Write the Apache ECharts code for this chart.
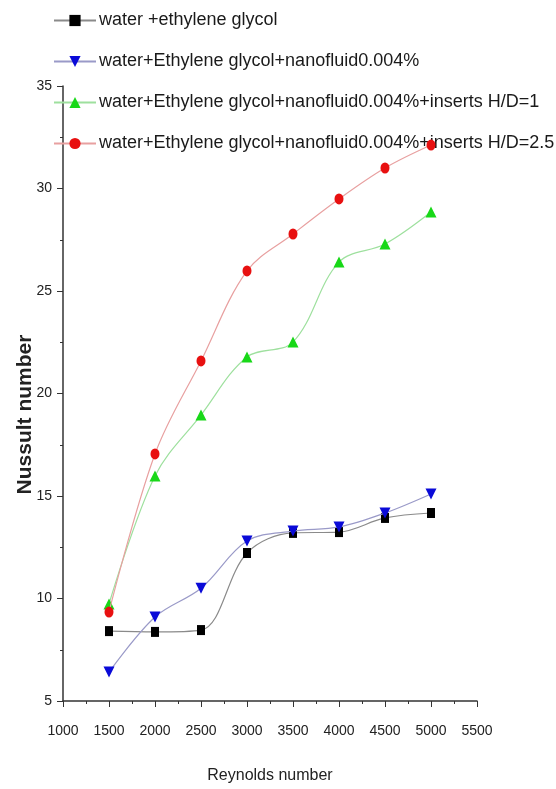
<!DOCTYPE html>
<html>
<head>
<meta charset="utf-8">
<script src="https://cdn.jsdelivr.net/npm/echarts@6/dist/echarts.min.js"></script>
<style>
html,body{margin:0;padding:0;background:#fff;}
#c{width:556px;height:789px;}
</style>
</head>
<body>
<div id="c"></div>
<script>
const reynolds = [1500, 2000, 2500, 3000, 3500, 4000, 4500, 5000];
const waterEG = [8.41, 8.37, 8.46, 12.22, 13.2, 13.24, 13.93, 14.17];
const waterEGNano = [6.41, 9.1, 10.5, 12.8, 13.29, 13.49, 14.17, 15.1];
const nanoInsertsHD1 = [9.73, 15.98, 18.95, 21.78, 22.51, 26.41, 27.29, 28.85];
const nanoInsertsHD25 = [9.34, 17.05, 21.59, 25.98, 27.78, 29.49, 31.0, 32.12];
const seriesNames = [
  'water +ethylene glycol',
  'water+Ethylene glycol+nanofluid0.004%',
  'water+Ethylene glycol+nanofluid0.004%+inserts H/D=1',
  'water+Ethylene glycol+nanofluid0.004%+inserts H/D=2.5'
];
const xTicks = {min: 1000, max: 5500, interval: 500};
const yTicks = {min: 5, max: 35, interval: 5};

const FONT = '"Liberation Sans", Arial, sans-serif';
const pair = (ys) => reynolds.map((x, i) => [x, ys[i]]);

const chart = echarts.init(document.getElementById('c'), null, {renderer: 'canvas'});
const styles = [
  {data: waterEG, symbol: 'rect', size: [8, 10], rot: 0, color: '#000000', line: '#8a8a8a'},
  {data: waterEGNano, symbol: 'triangle', size: [11, 11], rot: 180, color: '#0a0ad8', line: '#9a9ac8'},
  {data: nanoInsertsHD1, symbol: 'triangle', size: [11, 11], rot: 0, color: '#18d818', line: '#9ee09e'},
  {data: nanoInsertsHD25, symbol: 'circle', size: [9, 11], rot: 0, color: '#e81010', line: '#e8a0a0'}
];

chart.setOption({
  animation: false,
  backgroundColor: '#ffffff',
  grid: {left: 63, right: 79, top: 86, bottom: 88, containLabel: false},
  legend: {
    orient: 'vertical',
    left: 48,
    top: 5,
    itemWidth: 42,
    itemHeight: 14,
    itemGap: 20,
    textStyle: {fontFamily: FONT, fontSize: 18, color: '#1a1a1a', lineHeight: 21, padding: [0, 0, 0, -2]},
    data: seriesNames
  },
  xAxis: {
    type: 'value',
    min: xTicks.min, max: xTicks.max, interval: xTicks.interval,
    name: 'Reynolds number',
    nameLocation: 'middle',
    nameGap: 67,
    nameTextStyle: {fontFamily: FONT, fontSize: 16, color: '#222'},
    axisLine: {show: true, onZero: false, lineStyle: {color: '#333', width: 1.5}},
    axisTick: {show: true, inside: false, length: 6, lineStyle: {color: '#333'}},
    minorTick: {show: true, splitNumber: 2, length: 3, lineStyle: {color: '#333'}},
    splitLine: {show: false},
    axisLabel: {fontFamily: FONT, fontSize: 14, color: '#222', margin: 23, formatter: (v) => String(v)}
  },
  yAxis: {
    type: 'value',
    min: yTicks.min, max: yTicks.max, interval: yTicks.interval,
    name: 'Nussult number',
    nameLocation: 'middle',
    nameGap: 27,
    nameMoveOverlap: false,
    nameRotate: 90,
    nameTextStyle: {fontFamily: FONT, fontSize: 21, fontWeight: 'bold', color: '#222', padding: [0, 42, 0, 0]},
    axisLine: {show: true, onZero: false, lineStyle: {color: '#333', width: 1.5}},
    axisTick: {show: true, inside: false, length: 6, lineStyle: {color: '#333'}},
    minorTick: {show: true, splitNumber: 2, length: 3, lineStyle: {color: '#333'}},
    splitLine: {show: false},
    axisLabel: {fontFamily: FONT, fontSize: 14, color: '#222', margin: 11, formatter: (v) => String(v)}
  },
  series: styles.map((s, i) => ({
    name: seriesNames[i],
    type: 'line',
    smooth: 0.35,
    data: pair(s.data),
    symbol: s.symbol,
    symbolSize: s.size,
    symbolRotate: s.rot,
    showAllSymbol: true,
    itemStyle: {color: s.color},
    lineStyle: {color: s.line, width: 1.2},
    z: 2 + i
  }))
});
</script>
</body>
</html>
